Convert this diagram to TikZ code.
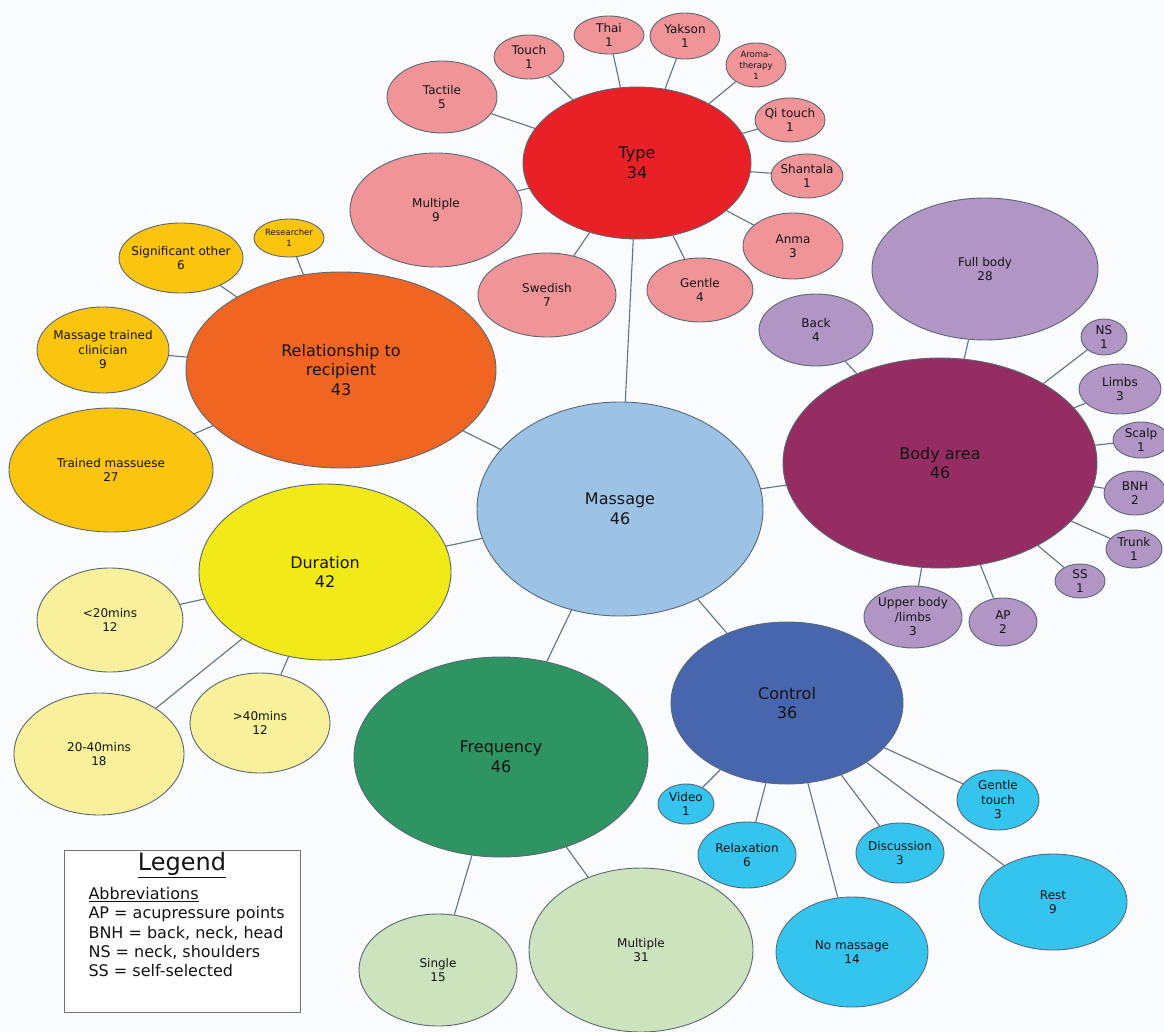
\documentclass[tikz,border=0pt]{standalone}
\usepackage{fontspec}
\setmainfont{DejaVu Sans}
\usetikzlibrary{shapes.geometric}
\definecolor{bg}{RGB}{250,251,253}
\definecolor{edgec}{RGB}{88,104,118}
\definecolor{linec}{RGB}{95,115,130}
\definecolor{txt}{RGB}{20,20,20}
\definecolor{typeC}{RGB}{234,32,39}
\definecolor{typeL}{RGB}{240,148,152}
\definecolor{relC}{RGB}{240,101,34}
\definecolor{relL}{RGB}{251,196,14}
\definecolor{masC}{RGB}{156,195,229}
\definecolor{durC}{RGB}{241,233,24}
\definecolor{durL}{RGB}{248,240,154}
\definecolor{freC}{RGB}{46,148,98}
\definecolor{freL}{RGB}{205,227,190}
\definecolor{conC}{RGB}{71,102,174}
\definecolor{conL}{RGB}{53,196,238}
\definecolor{bodC}{RGB}{149,45,98}
\definecolor{bodL}{RGB}{176,149,197}
\tikzset{
  bub/.style={ellipse, draw=edgec, line width=0.9pt, inner sep=0pt},
  big/.style={font=\fontsize{16}{19.5}\selectfont, text=txt, align=center},
  sml/.style={font=\fontsize{12}{14.5}\selectfont, text=txt, align=center},
  tiny/.style={font=\fontsize{8.5}{11}\selectfont, text=txt, align=center},
  conn/.style={draw=linec, line width=1.1pt}
}
% name, x, y, rx, ry, fill, text style, text
\newcommand{\mkbub}[8]{%
  \node[bub, fill=#6, minimum width={2*#4 pt}, minimum height={2*#5 pt}] (#1) at (#2,#3) {};
  \node[#7] (#1-t) at (#1.center) {#8};
}
\begin{document}
\begin{tikzpicture}[x=1pt, y=-1pt]
\fill[bg] (0,0) rectangle (1164,1032);
\useasboundingbox (0,0) rectangle (1164,1032);
% centre
\mkbub{mas}{620}{509}{143}{107}{masC}{big}{Massage\\46}
% Type
\mkbub{type}{637}{163}{114}{76}{typeC}{big}{Type\\34}
\mkbub{tactile}{442}{97}{55}{36}{typeL}{sml}{Tactile\\5}
\mkbub{touch}{529}{57}{35}{22}{typeL}{sml}{Touch\\1}
\mkbub{thai}{609}{35}{35}{19}{typeL}{sml}{Thai\\1}
\mkbub{yakson}{685}{36}{35}{23}{typeL}{sml}{Yakson\\1}
\mkbub{aroma}{756}{65}{30}{22}{typeL}{tiny}{Aroma-\\therapy\\1}
\mkbub{qi}{790}{120}{35}{22}{typeL}{sml}{Qi touch\\1}
\mkbub{shantala}{807}{176}{36}{22}{typeL}{sml}{Shantala\\1}
\mkbub{anma}{793}{246}{50}{33}{typeL}{sml}{Anma\\3}
\mkbub{gentle}{700}{290}{53}{32}{typeL}{sml}{Gentle\\4}
\mkbub{swedish}{547}{295}{69}{42}{typeL}{sml}{Swedish\\7}
\mkbub{tmult}{436}{210}{86}{57}{typeL}{sml}{Multiple\\9}
% Relationship
\mkbub{rel}{341}{370}{155}{98}{relC}{big}{Relationship to\\recipient\\43}
\mkbub{research}{289}{238}{35}{19}{relL}{tiny}{Researcher\\1}
\mkbub{signif}{181}{258}{62}{35}{relL}{sml}{Significant other\\6}
\mkbub{clin}{103}{350}{66}{43}{relL}{sml}{Massage trained\\clinician\\9}
\mkbub{masseuse}{111}{470}{102}{62}{relL}{sml}{Trained massuese\\27}
% Duration
\mkbub{dur}{325}{572}{126}{88}{durC}{big}{Duration\\42}
\mkbub{lt20}{110}{620}{73}{52}{durL}{sml}{<20mins\\12}
\mkbub{mid}{99}{754}{85}{61}{durL}{sml}{20-40mins\\18}
\mkbub{gt40}{260}{723}{70}{50}{durL}{sml}{>40mins\\12}
% Frequency
\mkbub{freq}{501}{757}{147}{100}{freC}{big}{Frequency\\46}
\mkbub{single}{438}{970}{79}{56}{freL}{sml}{Single\\15}
\mkbub{fmult}{641}{950}{112}{82}{freL}{sml}{Multiple\\31}
% Control
\mkbub{ctrl}{787}{703}{116}{81}{conC}{big}{Control\\36}
\mkbub{video}{686}{804}{28}{20}{conL}{sml}{Video\\1}
\mkbub{relax}{747}{855}{49}{33}{conL}{sml}{Relaxation\\6}
\mkbub{nomas}{852}{952}{76}{55}{conL}{sml}{No massage\\14}
\mkbub{disc}{900}{853}{44}{30}{conL}{sml}{Discussion\\3}
\mkbub{gtouch}{998}{800}{41}{30}{conL}{sml}{Gentle\\touch\\3}
\mkbub{rest}{1053}{902}{74}{48}{conL}{sml}{Rest\\9}
% Body area
\mkbub{body}{940}{463}{157}{105}{bodC}{big}{Body area\\46}
\mkbub{full}{985}{269}{113}{71}{bodL}{sml}{Full body\\28}
\mkbub{back}{816}{330}{57}{36}{bodL}{sml}{Back\\4}
\mkbub{ns}{1104}{337}{23}{18}{bodL}{sml}{NS\\1}
\mkbub{limbs}{1120}{389}{41}{25}{bodL}{sml}{Limbs\\3}
\mkbub{scalp}{1141}{440}{28}{18}{bodL}{sml}{Scalp\\1}
\mkbub{bnh}{1135}{493}{31}{22}{bodL}{sml}{BNH\\2}
\mkbub{trunk}{1134}{549}{28}{19}{bodL}{sml}{Trunk\\1}
\mkbub{ss}{1080}{581}{25}{17}{bodL}{sml}{SS\\1}
\mkbub{upper}{913}{617}{49}{31}{bodL}{sml}{Upper body\\/limbs\\3}
\mkbub{ap}{1003}{622}{34}{24}{bodL}{sml}{AP\\2}
% connectors
\foreach \c in {type,rel,dur,freq,ctrl,body} \draw[conn] (mas) -- (\c);
\foreach \c in {tactile,touch,thai,yakson,aroma,qi,shantala,anma,gentle,swedish,tmult} \draw[conn] (type) -- (\c);
\foreach \c in {research,signif,clin,masseuse} \draw[conn] (rel) -- (\c);
\foreach \c in {lt20,mid,gt40} \draw[conn] (dur) -- (\c);
\foreach \c in {single,fmult} \draw[conn] (freq) -- (\c);
\foreach \c in {video,relax,nomas,disc,gtouch,rest} \draw[conn] (ctrl) -- (\c);
\foreach \c in {full,back,ns,limbs,scalp,bnh,trunk,ss,upper,ap} \draw[conn] (body) -- (\c);
% legend
\node[draw=black!55, line width=1pt, fill=white, minimum width=236pt, minimum height=162pt, inner sep=0pt] (legend) at (182,931) {};
\node[font=\fontsize{24}{26}\selectfont, text=txt] (legtitle) at (182,865) {\underline{Legend}};
\node[font=\fontsize{16}{19.3}\selectfont, text=txt, align=left, anchor=north west] (legtext) at (85,884)
  {\underline{Abbreviations}\\AP = acupressure points\\BNH = back, neck, head\\NS = neck, shoulders\\SS = self-selected};
\end{tikzpicture}
\end{document}
